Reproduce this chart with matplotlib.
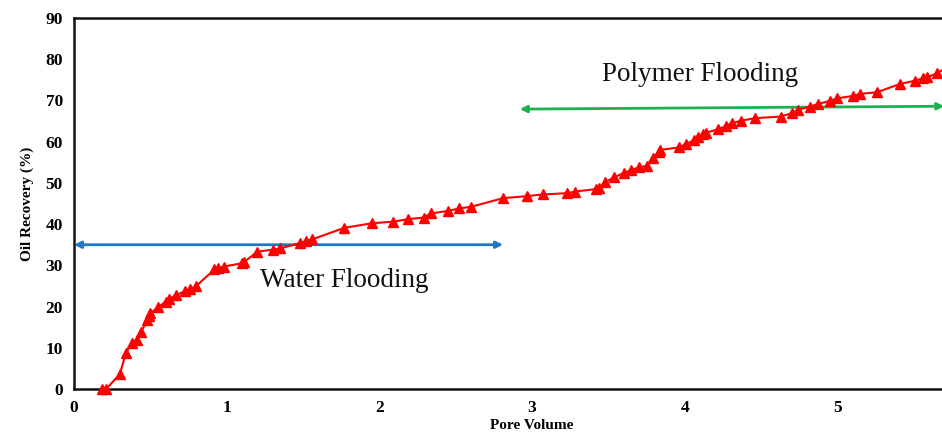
import matplotlib
matplotlib.use("Agg")
import matplotlib.pyplot as plt

pore_volume = [0.18, 0.21, 0.30, 0.34, 0.38, 0.41, 0.44, 0.48, 0.49, 0.50, 0.55, 0.60, 0.62,
               0.67, 0.73, 0.76, 0.80, 0.92, 0.945, 0.98, 1.10, 1.11, 1.20, 1.30, 1.35,
               1.48, 1.52, 1.56, 1.77, 1.95, 2.09, 2.19, 2.29, 2.34, 2.45, 2.52, 2.60,
               2.81, 2.97, 3.07, 3.23, 3.28, 3.42, 3.44, 3.48, 3.54, 3.60, 3.65, 3.70, 3.75,
               3.79, 3.83, 3.84, 3.96, 4.01, 4.06, 4.09, 4.12, 4.14, 4.22, 4.27, 4.31, 4.37,
               4.46, 4.63, 4.70, 4.74, 4.82, 4.87, 4.95, 5.00, 5.10, 5.15, 5.26, 5.41,
               5.51, 5.56, 5.59, 5.65, 5.72]
oil_recovery = [0.0, 0.0, 3.6, 8.8, 11.2, 12.0, 13.9, 16.7, 17.7, 18.4, 19.8, 21.2, 21.8,
                22.8, 23.8, 24.2, 25.0, 29.0, 29.3, 29.7, 30.5, 30.7, 33.3, 33.8, 34.1,
                35.4, 35.9, 36.3, 39.1, 40.2, 40.6, 41.2, 41.6, 42.6, 43.2, 43.8, 44.2,
                46.3, 46.8, 47.2, 47.5, 47.9, 48.5, 48.8, 50.2, 51.4, 52.4, 53.1, 53.8, 54.1,
                56.0, 57.6, 58.0, 58.6, 59.4, 60.4, 61.1, 61.9, 62.2, 63.0, 63.8, 64.5, 65.1,
                65.7, 66.1, 66.9, 67.7, 68.5, 69.1, 69.9, 70.5, 71.1, 71.6, 72.0, 74.0,
                74.8, 75.4, 75.6, 76.6, 78.0]

x_ticks = [0, 1, 2, 3, 4, 5]
y_ticks = [0, 10, 20, 30, 40, 50, 60, 70, 80, 90]

water_arrow_x = [0.0, 2.81]
water_arrow_y = [35.0, 35.0]
polymer_arrow_x = [2.92, 5.70]
polymer_arrow_y = [67.9, 68.6]

plt.rcParams['font.family'] = ['Liberation Serif', 'DejaVu Serif']

fig = plt.figure(figsize=(9.42, 4.37), dpi=100)
ax = fig.add_axes([0.0786, 0.1098, 0.9724, 0.849])

ax.plot(pore_volume, oil_recovery, color='#FF0000', linewidth=1.5, marker='^',
        markersize=7.5, markeredgecolor='#FF0000', markerfacecolor='#FF0000',
        clip_on=False, zorder=3)
ax.set_xlim(0, 6)
ax.set_ylim(0, 90)

ax.annotate('', xy=(water_arrow_x[0], water_arrow_y[0]), xytext=(water_arrow_x[1], water_arrow_y[1]),
            arrowprops=dict(arrowstyle='<|-|>', color='#1F78C8', lw=2, mutation_scale=10,
                            shrinkA=0, shrinkB=0), zorder=2)
ax.annotate('', xy=(polymer_arrow_x[0], polymer_arrow_y[0]), xytext=(polymer_arrow_x[1], polymer_arrow_y[1]),
            arrowprops=dict(arrowstyle='<|-|>', color='#1DB04F', lw=2, mutation_scale=10,
                            shrinkA=0, shrinkB=0), zorder=2)

ax.text(1.22, 26.4, 'Water Flooding', fontsize=19.5, va='center', ha='left', color='#111111')
ax.text(3.46, 76.2, 'Polymer Flooding', fontsize=19.5, va='center', ha='left', color='#111111')

ax.set_xticks(x_ticks)
ax.set_yticks(y_ticks)
ax.tick_params(length=0, labelsize=12.5, pad=8)
for lbl in ax.get_xticklabels() + ax.get_yticklabels():
    lbl.set_fontweight('bold')
ax.set_xlabel('Pore Volume', fontsize=11, fontweight='bold', labelpad=2)
ax.set_ylabel('Oil Recovery (%)', fontsize=11, fontweight='bold', labelpad=8)

for s in ax.spines.values():
    s.set_linewidth(1.8)
    s.set_color('#111111')

fig.savefig('out.png', dpi=100)
